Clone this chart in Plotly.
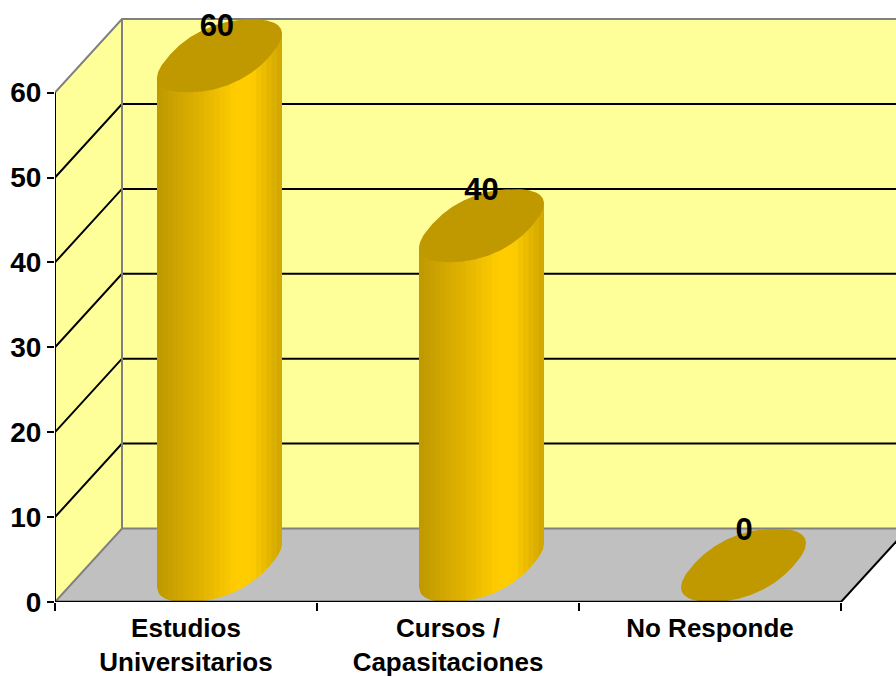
import numpy as np
import plotly.graph_objects as go

categories = ["Estudios<br>Universitarios", "Cursos /<br>Capasitaciones", "No Responde"]
values = [60, 40, 0]
y_ticks = [0, 10, 20, 30, 40, 50, 60]
label_nudge_y = [-0.1, 0.6, 0.5]
label_nudge_x = [-0.010, 0.0, 0.002]

W, H = 896, 677
LEFT, BASE = 55, 602
PX_X = 262.0           # pixels per category
PX_Y = 8.49            # pixels per value unit
DX = 67 / PX_X         # depth offset, in axis units
DY = 73.5 / PX_Y
XMAX = (W - LEFT) / PX_X
YMAX = BASE / PX_Y
NCAT = len(categories)

WALL = "#FFFF99"
FLOOR = "#C0C0C0"
EDGE = "#808080"
TOP = "#C09900"
FONT = "Liberation Sans, Arial, sans-serif"

# cylinder footprint (pixels): slightly squared ellipse, as in the reference
RW, RDX, RDY = 52.8, 33.5, 36.5
R = 62.5
EXP = 0.86
_t = np.linspace(0, 2 * np.pi, 721)[:-1]
_c = np.sign(np.cos(_t)) * np.abs(np.cos(_t)) ** EXP
_s = np.sign(np.sin(_t)) * np.abs(np.sin(_t)) ** EXP
FX = RW * _c + RDX * _s
FY = RDY * _s
FX = FX * R / FX.max()
FY = FY * RDY / FY.max()
_il, _ir = int(FX.argmin()), int(FX.argmax())
_roll = np.roll(np.arange(FX.size), -_il)
_arc = _roll[: ((_ir - _il) % FX.size) + 1]
if FY[_arc].mean() > 0:   # keep the lower arc
    _arc = np.roll(np.arange(FX.size)[::-1], -(FX.size - 1 - _il))
    _arc = _arc[: ((_il - _ir) % FX.size) + 1]
ARC_X, ARC_Y = FX[_arc], FY[_arc]

fig = go.Figure()


def poly(xs, ys, fill, line=None, lw=0):
    fig.add_trace(go.Scatter(
        x=list(xs), y=list(ys), mode="lines", fill="toself", fillcolor=fill,
        line=dict(color=line or fill, width=lw), hoverinfo="skip", showlegend=False))


def path(xs, ys, color, lw, clip=True):
    fig.add_trace(go.Scatter(
        x=list(xs), y=list(ys), mode="lines", line=dict(color=color, width=lw),
        hoverinfo="skip", showlegend=False, cliponaxis=clip))


ymax_val = max(y_ticks)
# walls and floor
poly([DX, XMAX, XMAX, DX], [DY, DY, ymax_val + DY, ymax_val + DY], WALL)
poly([0, DX, DX, 0], [0, DY, ymax_val + DY, ymax_val], WALL)
poly([0, NCAT, NCAT + DX, DX], [0, 0, DY, DY], FLOOR)

# gridlines
for v in y_ticks[1:-1]:
    path([0, DX, XMAX], [v, v + DY, v + DY], "#000000", 2)

# wall edges
path([DX, DX], [DY, ymax_val + DY], EDGE, 2)
path([0, DX, XMAX], [ymax_val, ymax_val + DY, ymax_val + DY], EDGE, 2)
path([0, DX, XMAX], [0, DY, DY], EDGE, 2)
path([NCAT, NCAT + DX], [0, DY], "#000000", 2)


def shade(u):
    """u in 0..1 across the cylinder."""
    stops = [0.0, 0.32, 0.62, 0.76, 1.0]
    r = np.interp(u, stops, [0xBF, 0xDD, 0xFF, 0xFF, 0xCF])
    g = np.interp(u, stops, [0x99, 0xB0, 0xCC, 0xCC, 0xA5])
    return f"rgb({int(r)},{int(g)},0)"


N = 24
for i, val in enumerate(values):
    cx = i + 0.5 + DX / 2
    cy_base = DY / 2
    cy_top = val + DY / 2
    if val > 0:
        edges = np.linspace(-R, R, N + 1)
        for k in range(N):
            a, b = edges[k], edges[min(k + 2, N)]   # overlap into next strip hides seams
            xs = np.linspace(a, b, 7)
            low = np.interp(xs, ARC_X, ARC_Y) / PX_Y
            X = cx + xs / PX_X
            poly(np.r_[X, X[::-1]],
                 np.r_[cy_base + low, (cy_top + low + 0.3)[::-1]],
                 shade((k + 0.5) / N))
    poly(cx + FX / PX_X, cy_top + FY / PX_Y, TOP)

# data labels
fig.add_trace(go.Scatter(
    x=[i + 0.5 + DX / 2 + label_nudge_x[i] for i in range(NCAT)],
    y=[v + DY - 0.95 + label_nudge_y[i] for i, v in enumerate(values)],
    text=[str(v) for v in values], mode="text", textposition="middle center",
    textfont=dict(family=FONT, size=31, color="#000000", weight=700),
    hoverinfo="skip", showlegend=False, cliponaxis=False))

# front axis lines
path([0, 0], [0, ymax_val], "#000000", 2, clip=False)
path([0, NCAT], [0, 0], "#000000", 2.4, clip=False)

fig.update_layout(
    width=W, height=H, autosize=False,
    margin=dict(l=LEFT, r=0, t=0, b=H - BASE, autoexpand=False),
    paper_bgcolor="#FFFFFF", plot_bgcolor="#FFFFFF", showlegend=False,
    xaxis=dict(
        range=[0, XMAX], showgrid=False, zeroline=False, showline=False, automargin=False,
        tickmode="array", tickvals=[i + 0.5 for i in range(NCAT)], ticktext=categories,
        ticks="", tickangle=0, ticklabelstandoff=8,
        tickfont=dict(family=FONT, size=26, color="#000000", weight=700),
        minor=dict(tickmode="array", tickvals=list(range(NCAT + 1)), ticks="outside",
                   ticklen=8, tickwidth=2, tickcolor="#000000", showgrid=False),
    ),
    yaxis=dict(
        range=[0, YMAX], showgrid=False, zeroline=False, showline=False, automargin=False,
        tickmode="array", tickvals=y_ticks, ticks="outside", ticklen=7,
        tickwidth=2, tickcolor="#000000",
        tickfont=dict(family=FONT, size=28, color="#000000", weight=700),
    ),
)

fig.write_html(
    "out.html",
    config={"displayModeBar": False},
    post_script="document.body.style.margin='0';document.documentElement.style.overflow='hidden';",
)
